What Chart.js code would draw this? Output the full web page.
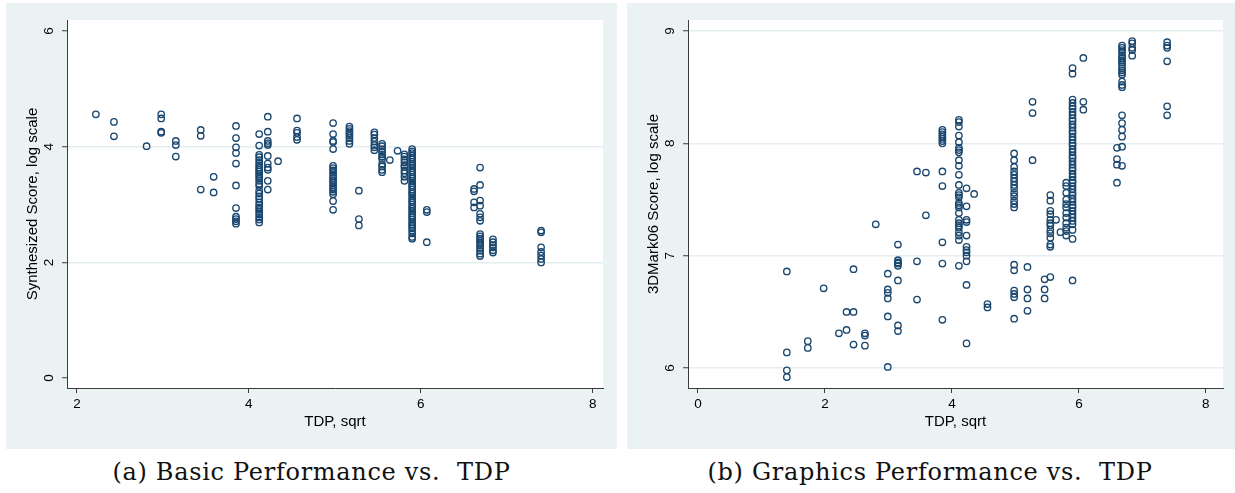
<!DOCTYPE html>
<html>
<head>
<meta charset="utf-8">
<script src="https://cdn.jsdelivr.net/npm/chart.js@4.4.1/dist/chart.umd.min.js"></script>
<style>
  html, body { margin: 0; padding: 0; background: #ffffff; }
  body { width: 1235px; height: 493px; position: relative; overflow: hidden; }
  .panel { position: absolute; top: 3px; height: 446px; background: #eaf2f3; }
  .cap { position: absolute; top: 455px; font-family: "DejaVu Serif", "Liberation Serif", serif;
         font-size: 24px; letter-spacing: 0.7px; color: #111; text-align: center; white-space: nowrap; line-height: 34px; }
</style>
</head>
<body>
<div class="panel" style="left:6px;width:611px;"><canvas id="c1" width="611" height="446"></canvas></div>
<div class="panel" style="left:627px;width:608px;"><canvas id="c2" width="608" height="446"></canvas></div>
<div class="cap" style="left:0px;width:623px;">(a) Basic Performance vs.&nbsp; TDP</div>
<div class="cap" style="left:624px;width:612px;">(b) Graphics Performance vs.&nbsp; TDP</div>
<script>
// ---------- Panel (a): Basic performance ----------
const basicTdp = [2.22, 2.43, 2.81, 2.98, 3.15, 3.44, 3.59, 3.85, 4.12, 4.22, 4.34, 4.56, 4.98,
                  5.17, 5.28, 5.46, 5.55, 5.64, 5.73, 5.81, 5.90, 6.07, 6.62, 6.69, 6.84, 7.40];
const basicScores = [
  [4.56],
  [4.43, 4.18],
  [4.01],
  [4.56, 4.49, 4.26, 4.24],
  [4.10, 4.03, 3.83],
  [4.29, 4.19, 3.26],
  [3.48, 3.21],
  [4.36, 4.15, 3.99, 3.89, 3.71, 3.33, 2.94, 2.79, 2.75, 2.71, 2.67],
  [4.22, 4.02, 3.86, 3.82, 3.77, 3.72, 3.68, 3.64, 3.60, 3.57, 3.53, 3.49, 3.45, 3.41, 3.36, 3.32,
   3.24, 3.19, 3.14, 3.10, 3.04, 2.99, 2.95, 2.91, 2.87, 2.83, 2.78, 2.74, 2.69],
  [4.52, 4.26, 4.10, 4.06, 4.03, 3.84, 3.71, 3.64, 3.60, 3.41, 3.26],
  [3.75],
  [4.49, 4.28, 4.24, 4.17, 4.12],
  [4.41, 4.22, 4.10, 4.08, 3.96, 3.67, 3.63, 3.59, 3.55, 3.50, 3.46, 3.42, 3.38, 3.34, 3.30, 3.26,
   3.22, 3.18, 3.06, 2.91],
  [4.35, 4.31, 4.27, 4.23, 4.19, 4.15, 4.10, 4.05],
  [3.24, 2.75, 2.64],
  [4.25, 4.21, 4.15, 4.09, 4.03, 3.99, 3.94],
  [4.05, 4.01, 3.96, 3.92, 3.87, 3.83, 3.79, 3.70, 3.66, 3.60, 3.56],
  [3.77],
  [3.93],
  [3.87, 3.83, 3.78, 3.73, 3.68, 3.65, 3.59, 3.54, 3.48, 3.41],
  [3.96, 3.92, 3.89, 3.85, 3.81, 3.78, 3.74, 3.70, 3.67, 3.63, 3.59, 3.56, 3.52, 3.48, 3.45, 3.41,
   3.37, 3.33, 3.30, 3.26, 3.22, 3.19, 3.15, 3.11, 3.07, 3.04, 3.00, 2.96, 2.93, 2.89, 2.85, 2.81,
   2.78, 2.74, 2.70, 2.66, 2.63, 2.59, 2.55, 2.50, 2.44, 2.41],
  [2.91, 2.87, 2.35],
  [3.27, 3.23, 3.04, 2.95],
  [3.64, 3.34, 3.07, 2.98, 2.84, 2.78, 2.72, 2.49, 2.45, 2.41, 2.37, 2.33, 2.29, 2.25, 2.20, 2.15, 2.11],
  [2.40, 2.35, 2.30, 2.26, 2.21, 2.17],
  [2.55, 2.52, 2.26, 2.18, 2.12, 2.06, 2.00]
];
const basicXTicks = [2, 4, 6, 8];
const basicYTicks = [0, 2, 4, 6];
const basicGridLines = [2, 4];
const basicXTitle = "TDP, sqrt";
const basicYTitle = "Synthesized Score, log scale";

// ---------- Panel (b): Graphics performance ----------
const graphicsTdp = [1.40, 1.73, 1.98, 2.22, 2.34, 2.45, 2.63, 2.80, 2.99, 3.15, 3.45, 3.59, 3.85, 4.11,
                     4.23, 4.35, 4.56, 4.98, 5.19, 5.27, 5.46, 5.55, 5.64, 5.71, 5.80, 5.90, 6.07, 6.60,
                     6.68, 6.84, 7.39];
const graphicsScores = [
  [6.86, 6.14, 5.98, 5.92],
  [6.24, 6.18],
  [6.71],
  [6.31],
  [6.50, 6.34],
  [6.88, 6.50, 6.21],
  [6.31, 6.29, 6.20],
  [7.28],
  [6.84, 6.70, 6.67, 6.62, 6.46, 6.01],
  [7.10, 6.96, 6.94, 6.93, 6.91, 6.78, 6.38, 6.33],
  [7.75, 6.95, 6.61],
  [7.74, 7.36],
  [8.12, 8.10, 8.08, 8.06, 8.04, 8.02, 8.00, 7.75, 7.62, 7.12, 6.93, 6.43],
  [8.21, 8.19, 8.15, 8.07, 8.01, 7.96, 7.94, 7.92, 7.85, 7.80, 7.72, 7.63, 7.56, 7.54, 7.52, 7.47,
   7.45, 7.43, 7.38, 7.32, 7.29, 7.27, 7.25, 7.21, 7.18, 7.14, 6.91],
  [7.60, 7.44, 7.32, 7.30, 7.18, 7.08, 7.05, 7.03, 7.00, 6.95, 6.74, 6.22],
  [7.55],
  [6.57, 6.54],
  [7.91, 7.85, 7.79, 7.75, 7.72, 7.69, 7.66, 7.63, 7.60, 7.56, 7.53, 7.49, 7.46, 7.43, 6.92, 6.87,
   6.69, 6.66, 6.63, 6.44],
  [6.90, 6.70, 6.62, 6.51],
  [8.37, 8.27, 7.85],
  [6.79, 6.70, 6.62],
  [7.54, 7.49, 7.40, 7.37, 7.32, 7.29, 7.27, 7.23, 7.20, 7.16, 7.10, 7.08, 6.81],
  [7.32],
  [7.21],
  [7.65, 7.62, 7.56, 7.50, 7.46, 7.43, 7.38, 7.34, 7.29, 7.25, 7.22, 7.18],
  [8.67, 8.62, 8.39, 8.36, 8.33, 8.31, 8.28, 8.25, 8.22, 8.20, 8.17, 8.14, 8.11, 8.09, 8.06, 8.03,
   8.00, 7.98, 7.95, 7.92, 7.89, 7.87, 7.84, 7.81, 7.78, 7.76, 7.73, 7.70, 7.67, 7.65, 7.62, 7.59,
   7.56, 7.54, 7.51, 7.48, 7.45, 7.43, 7.40, 7.37, 7.34, 7.31, 7.28, 7.23, 7.15, 6.78],
  [8.76, 8.37, 8.30],
  [7.96, 7.86, 7.81, 7.65],
  [8.87, 8.85, 8.83, 8.81, 8.78, 8.76, 8.74, 8.72, 8.70, 8.67, 8.65, 8.63, 8.61, 8.55, 8.52, 8.50,
   8.25, 8.18, 8.12, 8.06, 7.97, 7.80],
  [8.91, 8.89, 8.85, 8.83, 8.78],
  [8.90, 8.87, 8.85, 8.73, 8.33, 8.25]
];
const graphicsXTicks = [0, 2, 4, 6, 8];
const graphicsYTicks = [6, 7, 8, 9];
const graphicsGridLines = [6, 7, 8, 9];
const graphicsXTitle = "TDP, sqrt";
const graphicsYTitle = "3DMark06 Score, log scale";

// ---------- drawing ----------
const MARK = '#1a476f';
const AXIS = '#3c3c3c';
const GRID = '#e4edef';
const FONT = '"Liberation Sans", Arial, Helvetica, sans-serif';

function toPoints(xs, ys) {
  const pts = [];
  xs.forEach((x, i) => ys[i].forEach(y => pts.push({ x: x, y: y })));
  return pts;
}

const plotBg = {
  id: 'plotBg',
  beforeDraw(chart) {
    const a = chart.chartArea, ctx = chart.ctx;
    ctx.save();
    ctx.fillStyle = '#ffffff';
    ctx.fillRect(a.left, a.top, a.right - a.left, a.bottom - a.top);
    ctx.restore();
  }
};

function makeChart(id, xs, ys, xTicks, yTicks, gridLines, xTitle, yTitle, xr, yr, padRight) {
  return new Chart(document.getElementById(id), {
    type: 'scatter',
    data: {
      datasets: [{
        data: toPoints(xs, ys),
        pointStyle: 'circle',
        pointRadius: 3.2,
        pointHoverRadius: 3.2,
        borderWidth: 1.35,
        borderColor: MARK,
        backgroundColor: 'rgba(0,0,0,0)'
      }]
    },
    options: {
      responsive: false,
      animation: false,
      events: [],
      layout: { padding: { top: 15, right: padRight, left: 0, bottom: 0 } },
      plugins: { legend: { display: false }, tooltip: { enabled: false } },
      scales: {
        x: {
          type: 'linear', min: xr[0], max: xr[1],
          afterBuildTicks: s => { s.ticks = xTicks.map(v => ({ value: v })); },
          afterFit: s => { s.height = 61; },
          border: { display: true, color: AXIS, width: 1 },
          grid: { drawOnChartArea: false, drawTicks: true, tickLength: 5, tickColor: AXIS, tickWidth: 1 },
          ticks: { color: '#000', font: { family: FONT, size: 13.5 }, padding: 3, maxRotation: 0 },
          title: { display: true, text: xTitle, color: '#000', font: { family: FONT, size: 15 },
                   padding: { top: 0, bottom: 18 } }
        },
        y: {
          type: 'linear', min: yr[0], max: yr[1],
          afterBuildTicks: s => { s.ticks = yTicks.map(v => ({ value: v })); },
          afterFit: s => { s.width = 61; },
          border: { display: true, color: AXIS, width: 1 },
          grid: {
            drawOnChartArea: true, drawTicks: true, tickLength: 5, tickColor: AXIS, tickWidth: 1,
            color: c => (c.tick && gridLines.includes(c.tick.value)) ? GRID : 'rgba(0,0,0,0)',
            lineWidth: 1.5
          },
          ticks: { color: '#000', font: { family: FONT, size: 13.5 }, padding: 9,
                   minRotation: 90, maxRotation: 90, crossAlign: 'center' },
          title: { display: true, text: yTitle, color: '#000', font: { family: FONT, size: 15 },
                   padding: { top: 18, bottom: 0 } }
        }
      }
    },
    plugins: [plotBg]
  });
}

makeChart('c1', basicTdp, basicScores, basicXTicks, basicYTicks, basicGridLines,
          basicXTitle, basicYTitle, [1.884, 8.12], [-0.172, 6.19], 14);
makeChart('c2', graphicsTdp, graphicsScores, graphicsXTicks, graphicsYTicks, graphicsGridLines,
          graphicsXTitle, graphicsYTitle, [-0.157, 8.27], [5.823, 9.097], 12);
</script>
</body>
</html>
